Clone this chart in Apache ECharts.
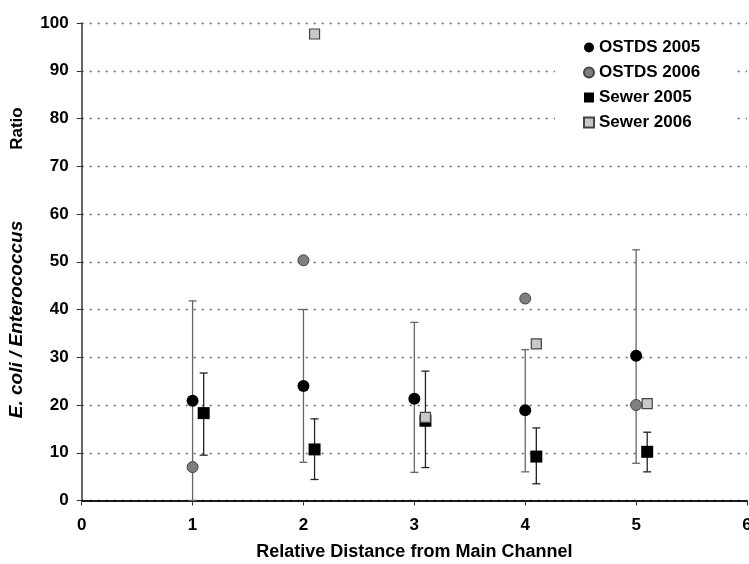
<!DOCTYPE html>
<html><head><meta charset="utf-8">
<script src="https://cdn.jsdelivr.net/npm/echarts@6/dist/echarts.min.js"></script>
<style>html,body{margin:0;padding:0;background:#fff}#c{width:749px;height:564px}</style>
</head><body><div id="c"></div>
<script>
const distances = [1, 2, 3, 4, 5];
const sewerOffset = 0.1;
const ostds2005 = [20.9, 24.0, 21.3, 18.9, 30.3];
const ostds2005Low = [0, 8.0, 5.9, 6.0, 7.8];
const ostds2005High = [41.8, 40.0, 37.3, 31.6, 52.5];
const ostds2006 = [7.0, 50.3, null, 42.3, 20.0];
const sewer2005 = [18.3, 10.7, 16.7, 9.2, 10.2];
const sewer2005Low = [9.5, 4.4, 6.9, 3.5, 6.0];
const sewer2005High = [26.7, 17.1, 27.1, 15.2, 14.3];
const sewer2006 = [null, 97.7, 17.4, 32.8, 20.3];
const yTicks = [0, 10, 20, 30, 40, 50, 60, 70, 80, 90, 100];
const xTicks = [0, 1, 2, 3, 4, 5, 6];

const pts = (xs, ys, off) => xs.map((x, i) => [x + off, ys[i]]).filter(p => p[1] != null);
const errs = (xs, lo, hi, off) => xs.map((x, i) => [x + off, lo[i], hi[i]]);

function errRender(color) {
  return function (params, api) {
    const x = api.value(0);
    const lo = api.coord([x, api.value(1)]);
    const hi = api.coord([x, api.value(2)]);
    const w = 4;
    const st = { stroke: color, lineWidth: 1.3 };
    return { type: 'group', children: [
      { type: 'line', shape: { x1: lo[0], y1: lo[1], x2: hi[0], y2: hi[1] }, style: st },
      { type: 'line', shape: { x1: hi[0] - w, y1: hi[1], x2: hi[0] + w, y2: hi[1] }, style: st },
      { type: 'line', shape: { x1: lo[0] - w, y1: lo[1], x2: lo[0] + w, y2: lo[1] }, style: st }
    ]};
  };
}

const font = 'Liberation Sans, Arial, sans-serif';
const chart = echarts.init(document.getElementById('c'));
chart.setOption({
  animation: false,
  backgroundColor: '#fff',
  grid: { left: 81.7, right: 2, top: 23, bottom: 63.5, containLabel: false, outerBoundsMode: 'none' },
  legend: {
    orient: 'vertical', left: 555, top: 29, itemGap: 8, itemWidth: 10, itemHeight: 10,
    backgroundColor: '#fff', padding: [10, 36, 10, 28],
    textStyle: { fontFamily: font, fontWeight: 'bold', fontSize: 17, color: '#000' },
    data: [
      { name: 'OSTDS 2005', icon: 'circle' },
      { name: 'OSTDS 2006', icon: 'circle' },
      { name: 'Sewer 2005', icon: 'rect' },
      { name: 'Sewer 2006', icon: 'rect' }
    ]
  },
  xAxis: [{
    type: 'value', min: 0, max: 6, interval: 1,
    name: 'Relative Distance from Main Channel', nameLocation: 'middle', nameGap: 43,
    nameTextStyle: { fontFamily: font, fontWeight: 'bold', fontSize: 18, color: '#000' },
    axisLine: { onZero: false, lineStyle: { color: '#333', width: 1.5 } },
    axisTick: { show: true, length: 5, lineStyle: { color: '#333' } },
    axisLabel: { fontFamily: font, fontWeight: 'bold', fontSize: 17, color: '#000', margin: 16,
      formatter: v => xTicks.includes(v) ? String(v) : '' },
    splitLine: { show: false }
  }, {
    type: 'value', position: 'top', min: 0, max: 6,
    axisLine: { show: true, lineStyle: { color: '#000', width: 1.5 } },
    axisTick: { show: false }, axisLabel: { show: false }, splitLine: { show: false }
  }],
  yAxis: {
    type: 'value', min: 0, max: 100, interval: 10,
    name: '{i|E. coli / Enterococcus}{g|}{n|Ratio}', nameLocation: 'middle', nameGap: 55,
    nameTextStyle: { rich: {
      i: { fontFamily: font, fontWeight: 'bold', fontStyle: 'italic', fontSize: 19, color: '#000' },
      g: { width: 71 },
      n: { fontFamily: font, fontWeight: 'bold', fontSize: 17, color: '#000', padding: [0, 2, 0, 0] } } },
    axisLine: { show: true, lineStyle: { color: '#333', width: 1.5 } },
    axisTick: { show: true, length: 5, lineStyle: { color: '#333' } },
    axisLabel: { fontFamily: font, fontWeight: 'bold', fontSize: 17, color: '#000', margin: 13,
      formatter: v => yTicks.includes(v) ? String(v) : '' },
    splitLine: { show: true, lineStyle: { color: '#666', type: [2, 6], width: 1.3 } }
  },
  series: [
    { type: 'custom', name: 'errO', renderItem: errRender('#666'), data: errs(distances, ostds2005Low, ostds2005High, 0), z: 2, silent: true },
    { type: 'custom', name: 'errS', renderItem: errRender('#222'), data: errs(distances, sewer2005Low, sewer2005High, sewerOffset), z: 2, silent: true },
    { type: 'scatter', name: 'OSTDS 2006', data: pts(distances, ostds2006, 0), symbol: 'circle', symbolSize: 11,
      itemStyle: { color: '#7f7f7f', borderColor: '#444', borderWidth: 1, opacity: 1 }, z: 3 },
    { type: 'scatter', name: 'OSTDS 2005', data: pts(distances, ostds2005, 0), symbol: 'circle', symbolSize: 12,
      itemStyle: { color: '#000', opacity: 1 }, z: 4 },
    { type: 'scatter', name: 'Sewer 2005', data: pts(distances, sewer2005, sewerOffset), symbol: 'rect', symbolSize: 12,
      itemStyle: { color: '#000', opacity: 1 }, z: 4 },
    { type: 'scatter', name: 'Sewer 2006', data: pts(distances, sewer2006, sewerOffset), symbol: 'rect', symbolSize: 10,
      itemStyle: { color: '#c8c8c8', borderColor: '#444', borderWidth: 1.2, opacity: 1 }, z: 4 }
  ]
});
</script></body></html>
